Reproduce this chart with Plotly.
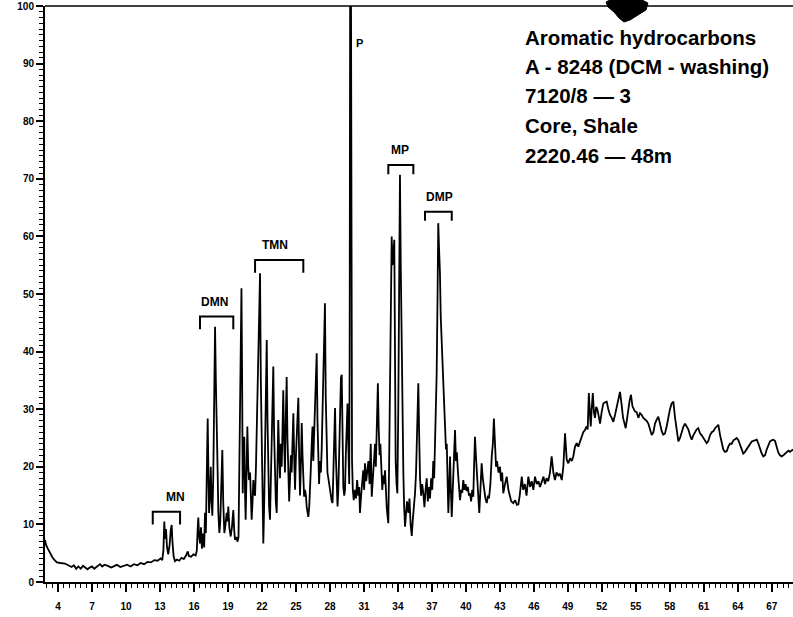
import plotly.graph_objects as go

# Aromatic hydrocarbon chromatogram: retention time (min) vs relative abundance (%)
retention_min = [
    2.85, 2.95, 3.1, 3.3, 3.5, 3.7, 3.9, 4.2, 4.6, 4.9, 5.2, 5.4, 5.6, 5.8, 6.0, 6.2, 6.4, 6.6, 6.8, 7.0,
    7.2, 7.4, 7.7, 7.9, 8.1, 8.4, 8.7, 9.0, 9.2, 9.5, 9.8, 10.1, 10.4, 10.7, 11.0, 11.3, 11.6, 11.9, 12.2, 12.5,
    12.8, 13.05, 13.2, 13.3, 13.38, 13.45, 13.53, 13.62, 13.73, 13.85, 13.95, 14.03, 14.1, 14.2, 14.32, 14.5, 14.7, 14.9, 15.1, 15.3,
    15.45, 15.55, 15.75, 15.95, 16.15, 16.25, 16.32, 16.38, 16.45, 16.53, 16.62, 16.7, 16.8, 16.9, 16.97, 17.05, 17.12, 17.21, 17.28, 17.33,
    17.42, 17.48, 17.55, 17.62, 17.7, 17.78, 17.86, 17.93, 18.01, 18.08, 18.15, 18.24, 18.32, 18.42, 18.5, 18.58, 18.68, 18.78, 18.89, 18.96,
    19.03, 19.12, 19.24, 19.35, 19.47, 19.55, 19.62, 19.75, 19.85, 19.93, 20.0, 20.1, 20.19, 20.25, 20.3, 20.36, 20.44, 20.5, 20.56, 20.63,
    20.71, 20.79, 20.86, 20.95, 21.02, 21.09, 21.17, 21.24, 21.32, 21.39, 21.47, 21.54, 21.62, 21.7, 21.78, 21.83, 21.9, 21.98, 22.05, 22.12,
    22.2, 22.27, 22.35, 22.42, 22.49, 22.56, 22.63, 22.71, 22.79, 22.86, 22.94, 23.0, 23.07, 23.15, 23.22, 23.3, 23.37, 23.44, 23.52, 23.59,
    23.66, 23.74, 23.81, 23.88, 23.96, 24.03, 24.1, 24.18, 24.25, 24.33, 24.4, 24.48, 24.55, 24.62, 24.7, 24.77, 24.85, 24.92, 25.0, 25.07,
    25.14, 25.21, 25.28, 25.36, 25.43, 25.51, 25.58, 25.65, 25.72, 25.8, 25.88, 25.95, 26.02, 26.09, 26.17, 26.24, 26.32, 26.39, 26.46, 26.53,
    26.6, 26.68, 26.75, 26.83, 26.9, 26.97, 27.04, 27.12, 27.2, 27.27, 27.34, 27.41, 27.48, 27.56, 27.63, 27.71, 27.78, 27.86, 27.93, 28.01,
    28.08, 28.16, 28.23, 28.3, 28.38, 28.45, 28.52, 28.6, 28.67, 28.74, 28.82, 28.89, 28.97, 29.04, 29.11, 29.18, 29.26, 29.33, 29.4, 29.48,
    29.55, 29.62, 29.7, 29.74, 29.78, 29.86, 29.9, 29.95, 30.02, 30.1, 30.21, 30.3, 30.4, 30.5, 30.58, 30.65, 30.75, 30.85, 30.94, 31.02,
    31.09, 31.2, 31.3, 31.39, 31.5, 31.6, 31.69, 31.8, 31.9, 31.98, 32.05, 32.12, 32.18, 32.23, 32.3, 32.38, 32.45, 32.55, 32.62, 32.7,
    32.78, 32.86, 32.93, 33.01, 33.08, 33.15, 33.22, 33.3, 33.38, 33.45, 33.52, 33.6, 33.68, 33.74, 33.8, 33.88, 33.95, 34.03, 34.1, 34.18,
    34.25, 34.33, 34.4, 34.48, 34.55, 34.63, 34.72, 34.8, 34.92, 35.02, 35.12, 35.22, 35.32, 35.42, 35.51, 35.6, 35.7, 35.8, 35.88, 35.95,
    36.05, 36.14, 36.24, 36.34, 36.44, 36.54, 36.64, 36.74, 36.83, 36.93, 37.03, 37.12, 37.2, 37.27, 37.35, 37.42, 37.5, 37.56, 37.63, 37.71,
    37.78, 37.86, 37.93, 38.01, 38.09, 38.16, 38.24, 38.31, 38.38, 38.45, 38.52, 38.6, 38.67, 38.75, 38.82, 38.89, 38.97, 39.04, 39.12, 39.2,
    39.3, 39.4, 39.48, 39.58, 39.68, 39.77, 39.87, 39.97, 40.07, 40.17, 40.27, 40.36, 40.46, 40.56, 40.65, 40.72, 40.8, 40.88, 40.98, 41.08,
    41.18, 41.28, 41.39, 41.49, 41.6, 41.72, 41.84, 41.94, 42.04, 42.16, 42.28, 42.38, 42.47, 42.57, 42.66, 42.75, 42.88, 43.01, 43.1, 43.2,
    43.3, 43.45, 43.6, 43.75, 43.89, 44.0, 44.18, 44.35, 44.5, 44.63, 44.75, 44.93, 45.05, 45.2, 45.35, 45.51, 45.66, 45.81, 45.95, 46.1,
    46.25, 46.4, 46.54, 46.7, 46.85, 46.98, 47.12, 47.27, 47.42, 47.57, 47.72, 47.86, 48.0, 48.16, 48.3, 48.46, 48.6, 48.75, 48.83, 48.9,
    49.04, 49.19, 49.34, 49.48, 49.63, 49.78, 49.92, 50.07, 50.22, 50.36, 50.51, 50.65, 50.75, 50.85, 50.95, 51.02, 51.1, 51.2, 51.3, 51.39,
    51.5, 51.6, 51.72, 51.84, 51.98, 52.13, 52.28, 52.43, 52.57, 52.72, 52.87, 53.01, 53.16, 53.31, 53.45, 53.6, 53.73, 53.87, 54.0, 54.1,
    54.2, 54.31, 54.45, 54.57, 54.7, 54.82, 54.93, 55.07, 55.22, 55.37, 55.52, 55.66, 55.81, 55.95, 56.1, 56.25, 56.4, 56.55, 56.69, 56.84,
    56.98, 57.13, 57.28, 57.42, 57.57, 57.72, 57.87, 58.01, 58.16, 58.31, 58.46, 58.61, 58.75, 58.9, 59.05, 59.2, 59.34, 59.49, 59.63, 59.78,
    59.93, 60.08, 60.22, 60.37, 60.51, 60.66, 60.8, 60.95, 61.1, 61.25, 61.4, 61.55, 61.7, 61.85, 61.99, 62.14, 62.28, 62.43, 62.58, 62.72,
    62.87, 63.02, 63.16, 63.31, 63.46, 63.61, 63.76, 63.9, 64.05, 64.19, 64.34, 64.48, 64.63, 64.78, 64.93, 65.08, 65.23, 65.38, 65.52, 65.67,
    65.82, 65.96, 66.11, 66.25, 66.4, 66.55, 66.7, 66.84, 66.99, 67.13, 67.28, 67.43, 67.57, 67.72, 67.87, 68.02, 68.17, 68.32, 68.47, 68.6,
    68.75, 68.87,
]

abundance_pct = [
    7.3, 6.4, 5.8, 5.0, 4.3, 3.8, 3.4, 3.3, 3.2, 2.9, 2.6, 2.9, 2.3, 2.7, 2.3, 2.8, 2.5, 2.2, 2.5, 2.7,
    2.3, 2.6, 3.1, 2.7, 3.0, 2.8, 2.5, 2.8, 3.0, 2.6, 2.8, 3.0, 2.7, 3.1, 2.9, 3.3, 3.1, 3.5, 3.4, 3.8,
    3.7, 4.1, 3.8, 5.5, 10.5, 7.5, 9.2, 6.0, 4.8, 6.5, 9.0, 9.9, 7.0, 4.5, 3.6, 3.9, 3.7, 4.2, 4.0, 4.6,
    5.3, 4.5, 4.4, 4.8, 4.6, 5.5, 9.0, 11.2, 8.0, 6.7, 9.5, 5.8, 8.4, 6.0, 12.0, 8.5, 17.7, 28.4, 18.0, 12.0,
    15.5, 20.0, 14.0, 11.5, 18.0, 30.0, 44.3, 35.0, 29.3, 20.0, 12.0, 8.5, 10.5, 17.0, 22.9, 14.0, 8.5, 10.0, 12.0, 10.5,
    13.1, 9.5, 7.9, 9.5, 12.5, 9.0, 7.3, 7.8, 7.0, 7.8, 20.0, 40.0, 51.0, 35.0, 15.4, 22.0, 25.2, 16.0, 10.8, 18.0,
    27.0, 20.0, 17.7, 19.0, 14.0, 10.8, 14.0, 17.7, 15.4, 15.0, 20.0, 27.0, 35.0, 43.2, 50.0, 53.6, 35.0, 20.6, 10.0, 6.7,
    14.0, 25.0, 38.0, 42.0, 28.0, 18.0, 13.0, 10.8, 18.0, 25.0, 33.0, 37.4, 26.0, 18.0, 14.0, 12.0, 20.0, 28.1, 22.0, 18.0,
    24.0, 20.0, 26.0, 33.3, 24.0, 19.0, 28.0, 35.6, 25.0, 17.5, 14.0, 18.0, 22.0, 19.0, 24.0, 29.3, 21.0, 16.0, 22.0, 26.0,
    30.0, 32.0, 22.0, 15.0, 20.0, 27.6, 22.0, 18.0, 14.8, 16.0, 15.0, 13.0, 11.5, 11.3, 13.0, 15.5, 20.0, 24.0, 27.0, 21.0,
    25.0, 30.0, 34.0, 39.7, 28.0, 20.0, 17.0, 21.0, 19.0, 23.0, 30.0, 38.0, 45.0, 48.4, 32.0, 20.0, 19.0, 18.0, 17.0, 16.5,
    15.0, 14.0, 13.7, 20.0, 28.0, 30.2, 22.0, 15.0, 13.1, 16.0, 24.0, 31.0, 35.5, 36.0, 26.0, 16.5, 15.0, 16.0, 22.0, 30.0,
    31.0, 24.0, 17.0, 40.0, 100.0, 100.0, 60.0, 21.0, 16.0, 14.2, 16.0, 14.5, 17.7, 15.0, 16.5, 12.0, 15.0, 17.0, 19.4, 16.0,
    20.6, 17.5, 19.0, 21.0, 17.0, 24.0, 14.8, 18.0, 20.0, 24.0, 20.0, 26.0, 32.2, 34.5, 27.0, 22.0, 24.0, 20.0, 16.0, 18.5,
    17.0, 19.4, 15.0, 13.0, 11.5, 10.2, 20.0, 36.2, 50.0, 60.0, 55.0, 58.0, 59.4, 40.0, 21.0, 17.0, 15.4, 30.0, 55.0, 70.7,
    55.0, 39.0, 28.0, 18.9, 13.0, 9.6, 12.0, 14.0, 12.0, 14.5, 10.0, 8.0, 11.0, 13.0, 15.4, 19.0, 26.0, 34.5, 25.0, 18.0,
    15.0, 17.0, 15.4, 13.0, 16.0, 18.0, 14.0, 16.5, 14.5, 18.0, 16.0, 21.0, 18.0, 24.0, 30.0, 36.2, 50.0, 62.3, 58.0, 53.6,
    46.0, 40.9, 38.0, 33.3, 30.4, 27.0, 23.0, 24.0, 18.0, 12.0, 16.0, 21.8, 16.0, 11.3, 15.0, 18.0, 22.0, 26.4, 21.0, 22.5,
    19.0, 16.0, 14.2, 16.0, 15.5, 17.7, 16.0, 17.0, 15.8, 16.5, 15.0, 15.4, 14.0, 16.0, 14.8, 20.0, 25.2, 22.0, 18.0, 14.0,
    12.0, 16.0, 20.6, 18.0, 16.0, 14.5, 13.7, 15.0, 14.5, 17.0, 21.8, 24.0, 28.4, 25.0, 20.0, 21.0, 19.0, 20.0, 17.5, 19.0,
    15.4, 17.0, 18.3, 16.0, 14.8, 14.0, 13.7, 14.2, 13.4, 13.5, 15.0, 18.3, 16.0, 17.0, 15.0, 18.3, 16.5, 17.5, 16.0, 18.3,
    17.0, 17.5, 16.5, 17.5, 18.3, 17.0, 18.0, 17.5, 19.0, 21.8, 19.0, 17.7, 19.0, 18.5, 18.8, 17.7, 20.0, 25.8, 23.0, 21.2,
    20.6, 21.5, 21.0, 21.8, 23.5, 24.1, 23.5, 24.5, 25.2, 26.0, 26.4, 27.0, 26.5, 32.8, 29.0, 27.0, 30.0, 32.8, 29.5, 28.5,
    30.4, 30.0, 28.8, 27.5, 29.5, 31.0, 31.2, 31.3, 30.0, 29.0, 28.5, 27.8, 29.0, 30.5, 31.5, 33.0, 31.0, 28.5, 27.5, 26.7,
    28.0, 30.0, 31.5, 32.5, 30.5, 30.0, 29.6, 29.5, 28.5, 29.3, 29.0, 28.5, 28.2, 28.0, 27.5, 26.5, 25.5, 26.0, 27.5, 28.2,
    28.7, 27.5, 26.2, 25.6, 25.8, 27.0, 29.0, 30.0, 31.0, 31.3, 28.5, 26.0, 24.4, 25.0, 26.2, 27.0, 27.5, 27.0, 26.5, 25.5,
    24.7, 25.5, 26.0, 26.5, 26.7, 25.8, 25.5, 25.0, 24.5, 24.1, 24.5, 25.5, 26.0, 26.2, 26.7, 27.0, 27.3, 25.5, 24.0, 23.0,
    22.6, 22.7, 23.5, 24.0, 24.0, 24.6, 24.8, 25.0, 24.6, 23.8, 23.0, 22.3, 22.6, 23.0, 23.6, 24.0, 24.4, 24.5, 24.6, 24.7,
    24.0, 23.0, 22.3, 21.8, 22.0, 23.0, 23.8, 24.4, 24.6, 24.7, 24.5, 23.5, 22.5, 22.0, 21.8, 22.0, 22.3, 22.6, 22.8, 22.6,
    22.8, 23.0,
]

# Compound groups: name, bracket start / end (min), bracket height (%)
group_names = ["MN", "DMN", "TMN", "MP", "DMP"]
group_start = [12.36, 16.53, 21.39, 33.15, 36.39]
group_end = [14.77, 19.47, 25.65, 35.36, 38.75]
group_level = [12.2, 46.1, 55.9, 72.4, 64.3]
group_label_x = [14.41, 17.77, 23.15, 34.18, 37.71]

sample_info = [
    "Aromatic hydrocarbons",
    "A - 8248 (DCM - washing)",
    "7120/8 \u2014 3",
    "Core, Shale",
    "2220.46 \u2014 48m",
]

x_ticks = list(range(4, 68, 3))

fig = go.Figure()
fig.add_trace(go.Scatter(
    x=retention_min, y=abundance_pct, mode="lines",
    line=dict(color="black", width=1.8), hoverinfo="skip", showlegend=False,
))

shapes = []
annotations = []
for name, x0, x1, lvl, lx in zip(group_names, group_start, group_end, group_level, group_label_x):
    leg = 2.2 if lvl < 60 else 1.6
    shapes.append(dict(
        type="path", xref="x", yref="y",
        path=f"M {x0},{lvl - leg} L {x0},{lvl} L {x1},{lvl} L {x1},{lvl - leg}",
        line=dict(color="black", width=2),
    ))
    annotations.append(dict(
        x=lx, y=lvl + 1.0, xref="x", yref="y", text=name, showarrow=False,
        yanchor="bottom", xanchor="center",
        font=dict(family="Liberation Sans", size=12, color="black", weight="bold"),
    ))

# Phenanthrene label
annotations.append(dict(
    x=30.1, y=93.6, xref="x", yref="y", text="P", showarrow=False,
    xanchor="left", yanchor="middle",
    font=dict(family="Liberation Sans", size=11, color="black", weight="bold"),
))

# Sample description block
info_y = [0.9457, 0.8946, 0.8438, 0.7917, 0.7401]
for txt, yy in zip(sample_info, info_y):
    annotations.append(dict(
        x=0.6386, y=yy, xref="paper", yref="paper", text=txt, showarrow=False,
        xanchor="left", yanchor="middle",
        font=dict(family="Liberation Sans", size=20.5, color="black", weight="bold"),
    ))

# top frame line
shapes.append(dict(type="line", xref="paper", yref="paper", x0=0, x1=1, y0=1, y1=1,
                   line=dict(color="black", width=1.5)))
# ink spot on the top edge
blob = [(606, 2), (612, -1), (640, -1), (648, 3), (646, 10), (638, 15), (630, 20),
        (624, 22), (619, 18), (614, 12), (608, 7)]
pts = [((px - 45) / 748, (582 - py) / 576) for px, py in blob]
path = "M " + " L ".join(f"{a:.4f},{b:.4f}" for a, b in pts) + " Z"
shapes.append(dict(type="path", xref="paper", yref="paper", path=path,
                   fillcolor="black", line=dict(color="black", width=1)))

tick_font = dict(family="Liberation Sans", size=10, color="black", weight="bold")

fig.update_layout(
    width=793, height=617,
    margin=dict(l=45, r=0, t=6, b=35),
    paper_bgcolor="white", plot_bgcolor="white",
    shapes=shapes, annotations=annotations,
    xaxis=dict(
        range=[2.85, 68.87], tickmode="array", tickvals=x_ticks,
        ticktext=[str(v) for v in x_ticks],
        ticks="outside", ticklen=8, tickwidth=1.5, tickcolor="black",
        showline=True, linecolor="black", linewidth=2,
        showgrid=False, zeroline=False, tickfont=tick_font, ticklabelstandoff=6,
        minor=dict(dtick=0.5, tick0=4, ticks="outside", ticklen=4, tickwidth=1, tickcolor="black", showgrid=False),
    ),
    yaxis=dict(
        range=[0, 100], tickmode="linear", tick0=0, dtick=10,
        ticks="outside", ticklen=7, tickwidth=1.5, tickcolor="black",
        showline=True, linecolor="black", linewidth=2,
        showgrid=False, zeroline=False, tickfont=tick_font,
        minor=dict(dtick=1, ticks="outside", ticklen=4, tickwidth=1, tickcolor="black", showgrid=False),
    ),
)

fig.write_html("out.html")
